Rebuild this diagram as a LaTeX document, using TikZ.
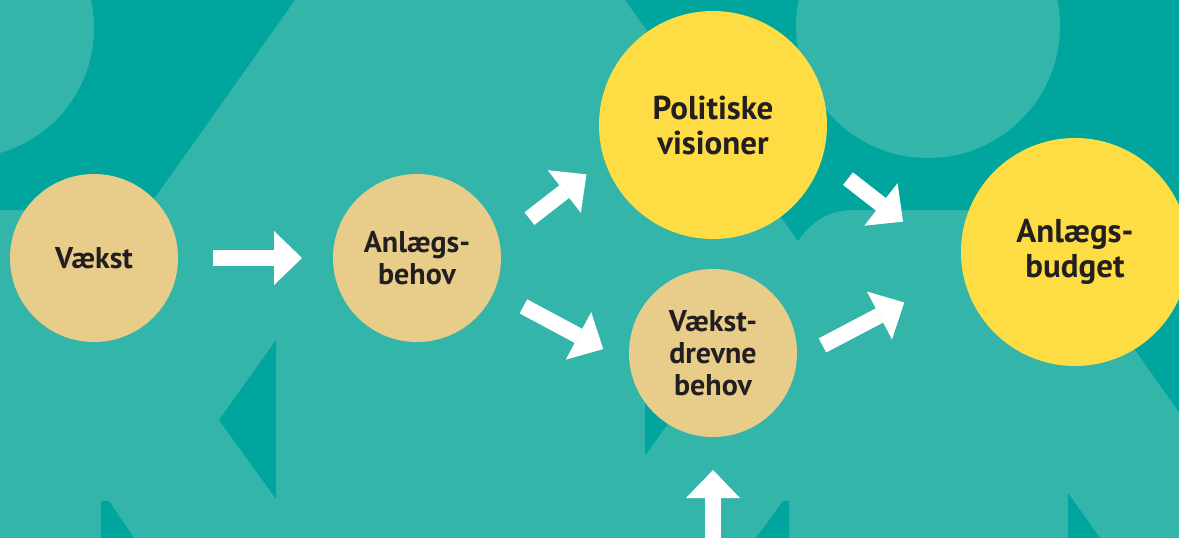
\documentclass[tikz,border=0pt]{standalone}
\usepackage{fontspec}
\setmainfont{PT Sans}
\usetikzlibrary{arrows.meta}
\definecolor{teallys}{HTML}{33B5AA}
\definecolor{tealmoerk}{HTML}{00A69E}
\definecolor{sand}{HTML}{E8CD8A}
\definecolor{gul}{HTML}{FEDD44}
\definecolor{tekst}{HTML}{231F20}
\begin{document}
\begin{tikzpicture}[x=1pt, y=-1pt,
    lille/.style={circle, fill=sand, minimum size=168pt, inner sep=0pt, outer sep=0pt, align=center, text=tekst, font=\bfseries\fontsize{30}{32}\selectfont},
    stor/.style={circle, fill=gul, minimum size=228pt, inner sep=0pt, outer sep=0pt, align=center, text=tekst, font=\bfseries\fontsize{33}{35}\selectfont},
    pil/.style={draw=white, line width=16pt, -{Triangle[length=28pt, width=54pt, line width=0pt]}}]
    \useasboundingbox (0,0) rectangle (1179,538);
    \clip (0,0) rectangle (1179,538);
    \fill[teallys] (0,0) rectangle (1179,538);
    \fill[tealmoerk] (0,0) -- (295,0) -- (146,210) -- (0,210) -- cycle;
    \fill[tealmoerk] (625,0) -- (1179,0) -- (1179,412) -- (1036,210) -- (853,210) .. controls (825,210) and (808,226) .. (798,241) -- cycle;
    \fill[teallys] (-36,28) circle (130pt);
    \fill[teallys] (928,26) circle (132pt);
    \fill[tealmoerk] (276,340) -- (219,420) -- (276,499) -- cycle;
    \fill[tealmoerk] (101,501) -- (109,501) -- (134,538) -- (101,538) -- cycle;
    \fill[tealmoerk] (645,370) -- (706,370) -- (645,456) -- cycle;
    \fill[tealmoerk] (756,538) -- (783,501) -- (789,501) -- (789,538) -- cycle;
    \fill[tealmoerk] (1068,493) -- (1100,538) -- (1068,538) -- cycle;

    \node[lille] (vaekst) at (94,258) {Vækst};
    \node[lille] (anlaeg) at (417,258) {Anlægs-\\behov};
    \node[stor] (vision) at (713,125) {Politiske\\visioner};
    \node[lille] (drevne) at (713,353) {Vækst-\\drevne\\behov};
    \node[stor] (budget) at (1075,252) {Anlægs-\\budget};
    \coordinate (nede) at (713,560);

    \draw[pil, shorten <=35pt, shorten >=31pt] (vaekst.east) -- (anlaeg.west);
    \draw[pil, shorten <=38pt, shorten >=23pt] (anlaeg.11.8) -- (vision.198.6);
    \draw[pil, shorten <=33pt, shorten >=30pt] (anlaeg.337.3) -- (drevne.187.1);
    \draw[pil, shorten <=33pt, shorten >=75pt] (vision.343) -- (budget.188.2);
    \draw[pil, shorten <=29pt, shorten >=66pt] (drevne.356) -- (budget.190.5);
    \draw[pil, shorten >=33pt] (nede) -- (drevne.south);
\end{tikzpicture}
\end{document}
